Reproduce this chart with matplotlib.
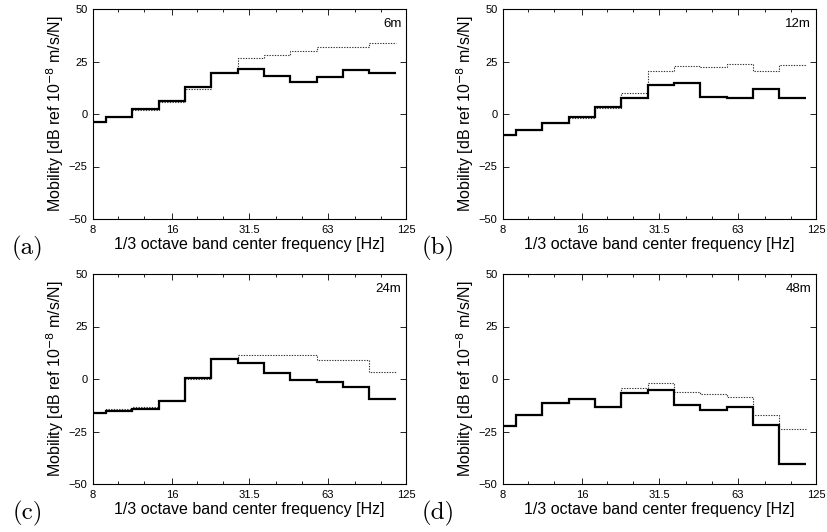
import numpy as np
import matplotlib
matplotlib.use('Agg')
import matplotlib.pyplot as plt
from matplotlib.ticker import FixedLocator, NullFormatter

plt.rcParams['font.family'] = ['Liberation Sans', 'DejaVu Sans']

# 1/3 octave band centres (Hz)
bands = [8, 10, 12.5, 16, 20, 25, 31.5, 40, 50, 63, 80, 100]
xticks = [8, 16, 31.5, 63, 125]
xticklabels = ['8', '16', '31.5', '63', '125']
minor = [10, 12.5, 20, 25, 40, 50, 80, 100]

distances = ['6m', '12m', '24m', '48m']
letters = ['(a)', '(b)', '(c)', '(d)']

# solid = thick line, dotted = thin line
solid_6 = [-3.6, -1.2, 2.5, 6.3, 12.8, 19.4, 21.6, 18.3, 15.2, 17.7, 21.0, 19.5]
dotted_6 = [-4.0, -1.5, 1.8, 5.6, 12.0, 20.1, 26.7, 28.3, 29.9, 31.8, 31.8, 34.0]
solid_12 = [-9.9, -7.5, -4.2, -1.3, 3.4, 7.8, 13.6, 14.8, 8.0, 7.6, 12.1, 7.8]
dotted_12 = [-9.9, -7.5, -4.2, -1.8, 2.9, 10.1, 20.5, 22.8, 22.3, 23.7, 20.5, 23.4]
solid_24 = [-16.2, -15.0, -14.2, -10.4, 0.4, 9.3, 7.5, 2.8, -0.4, -1.2, -3.9, -9.6]
dotted_24 = [-16.2, -14.3, -13.4, -10.0, 0.0, 10.2, 11.5, 11.5, 11.2, 9.1, 9.1, 3.3]
solid_48 = [-22.4, -17.3, -11.6, -9.7, -13.2, -6.6, -5.1, -12.3, -14.8, -13.2, -22.1, -40.7]
dotted_48 = [-21.8, -17.3, -11.6, -9.4, -13.2, -4.5, -2.1, -6.1, -7.2, -8.6, -17.2, -23.7]

solids = [solid_6, solid_12, solid_24, solid_48]
dotteds = [dotted_6, dotted_12, dotted_24, dotted_48]

# band edges from the centres (exact 1/3 octave spacing)
k = np.arange(len(bands) + 1)
edges = 8 * 2 ** (k / 3 - 1 / 6)

fig = plt.figure(figsize=(8.27, 5.32), dpi=100)
W, H = 827, 532
boxes = [(93, 9), (503, 9), (93, 274), (503, 274)]

for i in range(4):
    x0, y0 = boxes[i]
    ax = fig.add_axes([x0 / W, 1 - (y0 + 210) / H, 313 / W, 210 / H])
    ax.stairs(dotteds[i], edges, baseline=None, color='#333333', lw=0.8,
              linestyle=(0, (1.2, 1.2)))
    ax.stairs(solids[i], edges, baseline=None, color='black', lw=1.6)
    ax.set_xscale('log')
    ax.set_xlim(8, 125)
    ax.set_ylim(-50, 50)
    ax.xaxis.set_major_locator(FixedLocator(xticks))
    ax.set_xticklabels(xticklabels)
    ax.xaxis.set_minor_locator(FixedLocator(minor))
    ax.xaxis.set_minor_formatter(NullFormatter())
    ax.set_yticks([-50, -25, 0, 25, 50])
    ax.tick_params(which='both', direction='in', top=True, right=True, labelsize=8, pad=4)
    ax.tick_params(which='major', length=4, width=0.6)
    ax.tick_params(which='minor', length=2.5, width=0.6)
    for s in ax.spines.values():
        s.set_linewidth(0.8)
    ax.set_xlabel('1/3 octave band center frequency [Hz]', fontsize=11.5, labelpad=2)
    ax.set_ylabel('Mobility [dB ref 10$^{-8}$ m/s/N]', fontsize=11.5, labelpad=2)
    ax.text(0.985, 0.955, distances[i], transform=ax.transAxes, ha='right', va='top',
            fontsize=9.5)
    fig.text((x0 - 65) / W, 1 - (y0 + 239) / H, letters[i], fontfamily='cmr10',
             fontsize=18, ha='center', va='center')

fig.savefig('out.png', dpi=100)
plt.close()
